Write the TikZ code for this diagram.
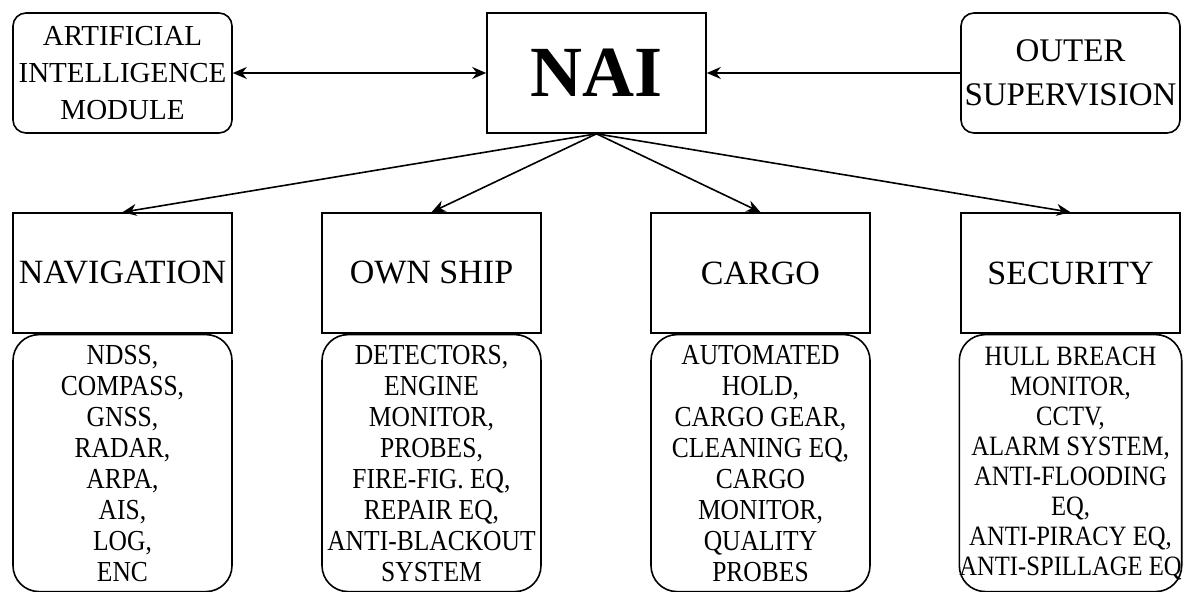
\documentclass[tikz,border=0pt]{standalone}
\usepackage{fontspec}
\setmainfont{Liberation Serif}
\newfontfamily\listfont[FakeStretch=0.88]{Liberation Serif}
\usetikzlibrary{arrows.meta, positioning}

\begin{document}
\begin{tikzpicture}[x=0.5pt, y=-0.5pt, >={Stealth[length=7pt, width=6pt]},
every node/.style={align=center, inner sep=0pt},
unit/.style={rectangle, draw, line width=0.8pt, minimum width=109.5pt, minimum height=60pt},
ext/.style={unit, rounded corners=6.5pt},
head/.style={unit, font=\fontsize{17}{20}\selectfont},
items/.style={rectangle, draw, line width=0.8pt, rounded corners=13pt, minimum width=109.5pt, minimum height=128.5pt, font=\listfont\fontsize{14.5}{15.5}\selectfont}]

  \useasboundingbox (0,0) rectangle (1184,592);

  % Core unit and outer links
  \node[unit, font=\bfseries\fontsize{36}{40}\selectfont] (nai) at (596.5,73) {NAI};
  \node[ext, font=\fontsize{14.5}{18.5}\selectfont] (aimod) at (122.5,73) {ARTIFICIAL\\INTELLIGENCE\\MODULE};
  \node[ext, font=\fontsize{16.5}{22}\selectfont] (outer) at (1070.5,73) {OUTER\\SUPERVISION};

  % Subsystems
  \node[head] (nav) at (122.5,273) {NAVIGATION};
  \node[head] (ship) at (431.5,273) {OWN SHIP};
  \node[head] (cargo) at (760.5,273) {CARGO};
  \node[head] (sec) at (1070.5,273) {SECURITY};

  % Equipment lists
  \node[items, below=0pt of nav] (navlist) {NDSS,\\COMPASS,\\GNSS,\\RADAR,\\ARPA,\\AIS,\\LOG,\\ENC};
  \node[items, below=0pt of ship] (shiplist) {DETECTORS,\\ENGINE\\MONITOR,\\PROBES,\\FIRE-FIG. EQ,\\REPAIR EQ,\\ANTI-BLACKOUT\\SYSTEM};
  \node[items, below=0pt of cargo] (cargolist) {AUTOMATED\\HOLD,\\CARGO GEAR,\\CLEANING EQ,\\CARGO\\MONITOR,\\QUALITY\\PROBES};
  \node[items, below=0pt of sec, font=\listfont\fontsize{14}{15}\selectfont] (seclist) {HULL BREACH\\MONITOR,\\CCTV,\\ALARM SYSTEM,\\ANTI-FLOODING\\EQ,\\ANTI-PIRACY EQ,\\ANTI-SPILLAGE EQ};

  \draw[<->, line width=0.8pt] (aimod) -- (nai);
  \draw[->, line width=0.8pt] (outer) -- (nai);
  \draw[->, line width=0.8pt] (nai.south) -- (nav.north);
  \draw[->, line width=0.8pt] (nai.south) -- (ship.north);
  \draw[->, line width=0.8pt] (nai.south) -- (cargo.north);
  \draw[->, line width=0.8pt] (nai.south) -- (sec.north);

\end{tikzpicture}
\end{document}
